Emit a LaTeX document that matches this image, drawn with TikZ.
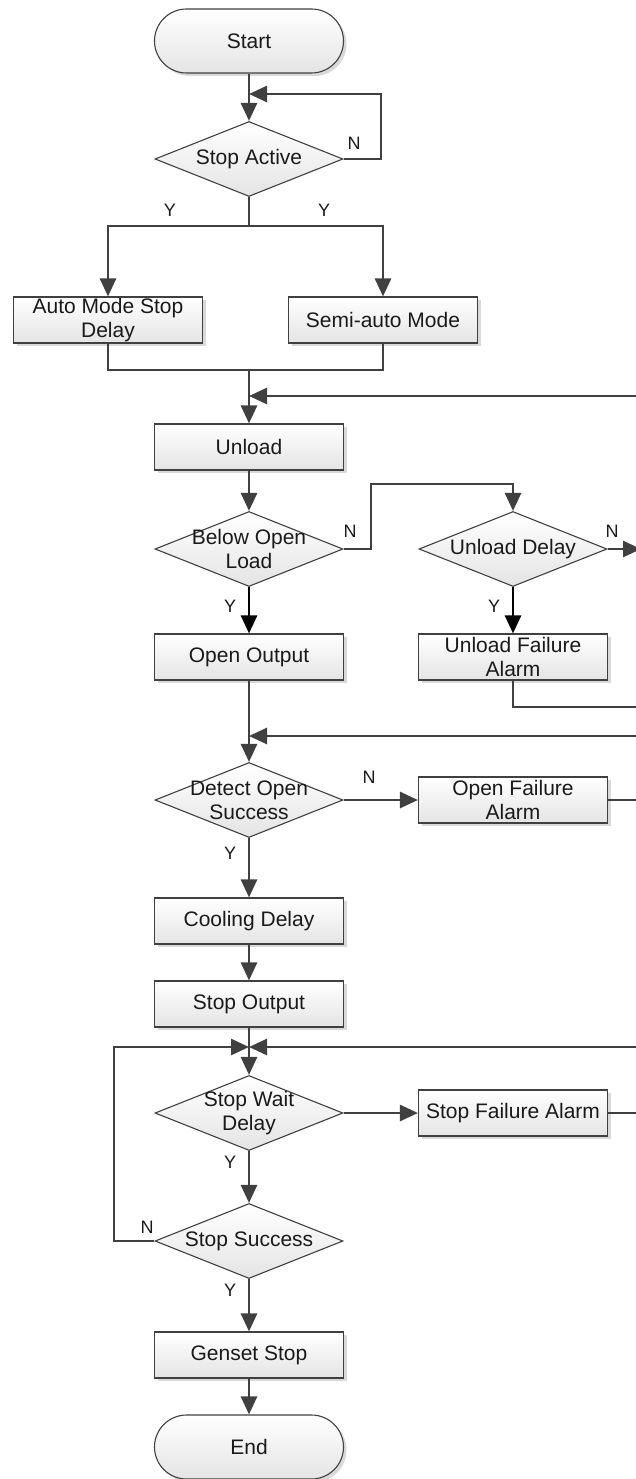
\documentclass[tikz,border=0pt]{standalone}
\usepackage{fontspec}
\setmainfont{Liberation Sans}
\usetikzlibrary{arrows.meta,shadows,shapes.geometric}
\definecolor{ink}{HTML}{1A1A1A}
\definecolor{wire}{HTML}{404040}
\definecolor{pale}{HTML}{E4E4E4}

\begin{document}
\begin{tikzpicture}[x=1pt,y=-1pt,font=\fontsize{21}{24}\selectfont,text=ink,>={Triangle[length=18pt,width=16pt]},
  box/.style={draw=wire,line width=1.1pt,top color=white,bottom color=pale,minimum width=189pt,minimum height=46pt,
    align=center,inner sep=1pt,drop shadow={shadow xshift=3pt,shadow yshift=-3pt,fill=black!15,opacity=1}},
  term/.style={box,rounded corners=32pt,minimum height=64pt},
  dec/.style={draw=wire,line width=1.1pt,shape=diamond,top color=white,bottom color=pale,minimum width=188pt,
    minimum height=75pt,inner sep=0pt},
  lbl/.style={align=center,inner sep=0pt},
  yn/.style={font=\fontsize{18}{20}\selectfont},
  line/.style={draw=wire,line width=2.7pt},
  flow/.style={line,->}]
  \useasboundingbox (0,0) rectangle (635,1479);
  % main column
  \node[term] (st) at (249,41) {Start};
  \node[dec,label={[lbl]center:Stop Active}] (sa) at (249,159) {};
  \node[box] (amd) at (108,320) {Auto Mode Stop\\Delay};
  \node[box] (sam) at (383,320) {Semi-auto Mode};
  \node[box] (ul) at (249,447) {Unload};
  \node[dec,label={[lbl]center:Below Open\\Load}] (bol) at (249,549) {};
  \node[box] (oo) at (249,657) {Open Output};
  \node[dec,label={[lbl]center:Detect Open\\Success}] (dos) at (249,800) {};
  \node[box] (cd) at (249,921) {Cooling Delay};
  \node[box] (so) at (249,1004) {Stop Output};
  \node[dec,label={[lbl]center:Stop Wait\\Delay}] (swd) at (249,1113) {};
  \node[dec,label={[lbl]center:Stop Success}] (ss) at (249,1241) {};
  \node[box] (gs) at (249,1355) {Genset Stop};
  \node[term] (en) at (249,1447) {End};
  % right column
  \node[dec,label={[lbl]center:Unload Delay}] (ud) at (513,549) {};
  \node[box] (ufa) at (513,657) {Unload Failure\\Alarm};
  \node[box] (ofa) at (513,800) {Open Failure\\Alarm};
  \node[box] (sfa) at (513,1113) {Stop Failure Alarm};
  % bends and free ends
  \coordinate (lp1) at (381,94);
  \coordinate (split) at (249,226);
  \coordinate (merge) at (249,370);
  \coordinate (k1) at (371,484);
  \coordinate (l1) at (114,1047);
  \coordinate (r1) at (636,396);
  \coordinate (r2) at (641,549);
  \coordinate (r3) at (636,707);
  \coordinate (r4) at (636,736);
  \coordinate (r5) at (636,800);
  \coordinate (r6) at (636,1047);
  \coordinate (r7) at (636,1113);
  % connectors
  \draw[flow] (st) -- (sa);
  \draw[flow] (sa.east) -| (lp1) -- (lp1 -| st.south);
  \draw[line] (sa.south) -- (split);
  \draw[flow] (split) -| (amd.north);
  \draw[flow] (split) -| (sam.north);
  \draw[line] (amd.south) |- (merge);
  \draw[line] (sam.south) |- (merge);
  \draw[flow] (merge) -- (ul.north);
  \draw[flow] (r1) -- (r1 -| ul.north);
  \draw[flow] (ul) -- (bol);
  \draw[flow] (bol.east) -| (k1) -| (ud.north);
  \draw[flow] (ud.east) -- (r2);
  \draw[flow,draw=black] (bol) -- (oo);
  \draw[flow,draw=black] (ud) -- (ufa);
  \draw[line] (ufa.south) |- (r3);
  \draw[flow] (oo) -- (dos);
  \draw[flow] (r4) -- (r4 -| oo.south);
  \draw[flow] (dos) -- (ofa);
  \draw[line] (ofa.east) -- (r5);
  \draw[flow] (dos) -- (cd);
  \draw[flow] (cd) -- (so);
  \draw[flow] (so) -- (swd);
  \draw[flow] (r6) -- (r6 -| so.south);
  \draw[flow] (ss.west) -| (l1) -- (l1 -| so.south);
  \draw[flow] (swd) -- (sfa);
  \draw[line] (sfa.east) -- (r7);
  \draw[flow] (swd) -- (ss);
  \draw[flow] (ss) -- (gs);
  \draw[flow] (gs) -- (en);
  % Y/N marks
  \node[yn] (saN) at (354,143) {N};
  \node[yn] (saY1) at (170,210) {Y};
  \node[yn] (saY2) at (324,210) {Y};
  \node[yn] (bolN) at (350,531) {N};
  \node[yn] (bolY) at (230,606) {Y};
  \node[yn] (udN) at (612,531) {N};
  \node[yn] (udY) at (494,606) {Y};
  \node[yn] (dosN) at (369,777) {N};
  \node[yn] (dosY) at (230,853) {Y};
  \node[yn] (swdY) at (230,1162) {Y};
  \node[yn] (ssN) at (147,1227) {N};
  \node[yn] (ssY) at (230,1290) {Y};
\end{tikzpicture}
\end{document}
